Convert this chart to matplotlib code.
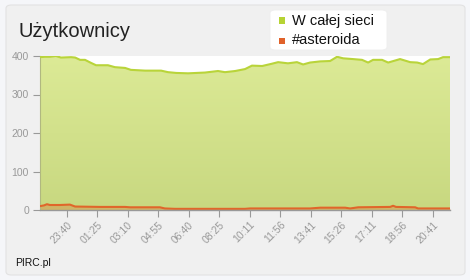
import matplotlib
matplotlib.use("Agg")
import matplotlib.pyplot as plt
import numpy as np
from matplotlib.patches import FancyBboxPatch
from matplotlib.colors import LinearSegmentedColormap

plt.rcParams['font.family'] = ['Liberation Sans', 'DejaVu Sans']

# minutes since 22:08 (start of the window)
start_clock = "22:08"
total_t = [0, 17, 34, 55, 72, 107, 121, 138, 155, 176, 193, 234, 258, 293, 313,
           362, 417, 441, 469, 510, 568, 613, 637, 672, 706, 730, 765, 799, 820,
           854, 885, 906, 930, 965, 999, 1023, 1044, 1078, 1109, 1130, 1147, 1178,
           1199, 1240, 1275, 1299, 1319, 1344, 1371, 1388, 1412]
total_v = [397, 398, 398, 400, 396, 397, 396, 390, 390, 382, 376, 376, 371, 369, 364,
           362, 362, 358, 356, 355, 357, 361, 358, 361, 366, 375, 374, 380, 384,
           381, 384, 378, 383, 386, 387, 398, 394, 392, 390, 383, 390, 390,
           383, 392, 384, 383, 379, 391, 392, 397, 397]

chan_t = [0, 14, 24, 34, 69, 103, 121, 207, 293, 310, 413, 430, 465, 706, 723,
          930, 965, 1051, 1068, 1096, 1206, 1216, 1226, 1292, 1302, 1412]
chan_v = [10, 12, 15, 13, 13, 14, 9, 8, 8, 7, 7, 4, 3, 3, 4,
          4, 6, 6, 4, 7, 8, 11, 8, 7, 4, 4]

tick_labels = ["23:40", "01:25", "03:10", "04:55", "06:40", "08:25", "10:11",
               "11:56", "13:41", "15:26", "17:11", "18:56", "20:41"]
y_ticks = [0, 100, 200, 300, 400]
series_names = ["W całej sieci", "#asteroida"]

def to_min(s):
    h, m = map(int, s.split(":"))
    return h * 60 + m

s0 = to_min(start_clock)
tick_pos = [(to_min(l) - s0) % 1440 for l in tick_labels]

W, H = 470, 280
fig = plt.figure(figsize=(W / 100, H / 100), dpi=100)
fig.patch.set_facecolor('#f5f6f9')

panel = FancyBboxPatch((6 / W, 5 / H), 459 / W, 270 / H,
                       boxstyle="round,pad=0,rounding_size=0.012",
                       transform=fig.transFigure, facecolor='#f0f0f0',
                       edgecolor='#e2e2e2', linewidth=0.8, zorder=-5)
fig.patches.append(panel)

ax = fig.add_axes([40 / W, 1 - 210 / H, 410 / W, 154 / H])
ax.set_zorder(2)
ax.set_facecolor('white')
ax.set_xlim(0, 1412)
ax.set_ylim(0, 400)

green_line = '#b9d43a'
poly = ax.fill_between(total_t, total_v, 0, facecolor='none', edgecolor='none')
grad = np.linspace(0, 1, 256).reshape(-1, 1)
cmap = LinearSegmentedColormap.from_list('g', ['#c8d880', '#dcea96'])
im = ax.imshow(grad, cmap=cmap, aspect='auto', extent=[0, 1412, 0, 400],
               origin='lower', zorder=1)
path = poly.get_paths()[0]
im.set_clip_path(path, transform=ax.transData)
ax.plot(total_t, total_v, color=green_line, lw=1.5, zorder=3)

ax.fill_between(chan_t, chan_v, 0, color='#e0622a', alpha=0.3, lw=0, zorder=2)
ax.plot(chan_t, chan_v, color='#e0662a', lw=1.5, zorder=3)

for sp in ['top', 'right']:
    ax.spines[sp].set_visible(False)
ax.spines['left'].set_color('#b0b880')
ax.spines['left'].set_linewidth(0.8)
ax.spines['bottom'].set_color('#999999')
ax.spines['bottom'].set_linewidth(1.0)
ax.spines['bottom'].set_zorder(5)

ax.set_yticks(y_ticks)
ax.set_yticklabels([str(v) for v in y_ticks])
ax.set_xticks(tick_pos)
ax.set_xticklabels(tick_labels, rotation=45, ha='right', rotation_mode='anchor')
ax.tick_params(axis='y', length=5, width=0.8, color='#999999', labelsize=7.5,
               labelcolor='#999999', pad=3)
ax.tick_params(axis='x', length=5, width=0.8, color='#999999', labelsize=7.5,
               labelcolor='#999999', pad=2)

fig.text(18 / W, 1 - 37 / H, "Użytkownicy", fontsize=14.5, color='#222222',
         ha='left', va='baseline')
fig.text(15 / W, 1 - 266 / H, "PIRC.pl", fontsize=7.5, color='#111111',
         ha='left', va='baseline')

lb = FancyBboxPatch((270 / W, 1 - 50 / H), 117 / W, 40 / H,
                    boxstyle="round,pad=0,rounding_size=0.012",
                    transform=fig.transFigure, facecolor='white',
                    edgecolor='#eeeeee', linewidth=0.6, zorder=10)
fig.patches.append(lb)
for i, (name, col) in enumerate(zip(series_names, ['#b6d334', '#e0622a'])):
    yc = 1 - (20.5 + i * 20) / H
    fig.patches.append(FancyBboxPatch((278.5 / W, yc - 3 / H), 6 / W, 6 / H,
                                      boxstyle="square,pad=0", transform=fig.transFigure,
                                      facecolor=col, edgecolor='none', zorder=11))
    fig.text(291.5 / W, yc, name, fontsize=10.5, color='#111111', ha='left',
             va='center', zorder=12)

fig.savefig('out.png', dpi=100, facecolor=fig.get_facecolor())
